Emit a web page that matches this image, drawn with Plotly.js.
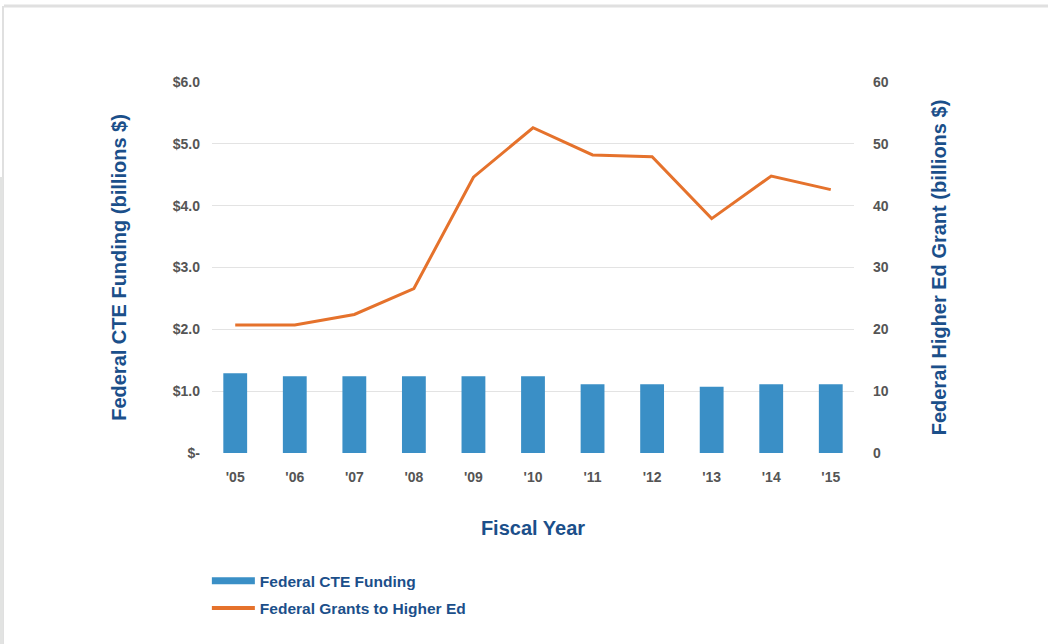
<!DOCTYPE html>
<html>
<head>
<meta charset="utf-8">
<script src="https://cdn.plot.ly/plotly-3.0.1.min.js"></script>
<style>html,body{margin:0;padding:0;background:#fff;}#chart{width:1048px;height:644px;}</style>
</head>
<body>
<div id="chart"></div>
<script>
const years = ["'05","'06","'07","'08","'09","'10","'11","'12","'13","'14","'15"];
const cteFunding = [1.29, 1.24, 1.24, 1.24, 1.24, 1.24, 1.11, 1.11, 1.07, 1.11, 1.11];
const higherEdGrants = [20.7, 20.7, 22.4, 26.6, 44.6, 52.6, 48.2, 47.9, 37.9, 44.8, 42.6];
const leftTickVals = [0, 1, 2, 3, 4, 5, 6];
const leftTickText = ["$-", "$1.0", "$2.0", "$3.0", "$4.0", "$5.0", "$6.0"];
const rightTickVals = [0, 10, 20, 30, 40, 50, 60];

const blueText = "#1b4f8a";
const barColor = "#3a8fc6";
const lineColor = "#e5722c";
const fam = "Liberation Sans, Arial, sans-serif";
const tickFont = {family: fam, size: 14, color: "#555555", weight: "bold"};
const titleFont = {family: fam, size: 20, color: blueText, weight: "bold"};

const traces = [
  {type: "bar", x: years, y: cteFunding, name: "Federal CTE Funding", marker: {color: barColor},
   width: 0.40, showlegend: false},
  {type: "scatter", mode: "lines", x: years, y: higherEdGrants, yaxis: "y2", name: "Federal Grants to Higher Ed",
   line: {color: lineColor, width: 3}, showlegend: false},
  {type: "scatter", mode: "lines", x: [null], y: [null], name: "Federal CTE Funding", legendgroup: "a",
   line: {color: barColor, width: 7}},
  {type: "scatter", mode: "lines", x: [null], y: [null], yaxis: "y2", name: "Federal Grants to Higher Ed", legendgroup: "b",
   line: {color: lineColor, width: 4}}
];

const layout = {
  width: 1048, height: 644,
  margin: {l: 212, r: 194, t: 82, b: 191},
  paper_bgcolor: "#ffffff", plot_bgcolor: "#ffffff",
  xaxis: {
    type: "category", range: [-0.39, 10.39], showgrid: false, zeroline: false, showline: false,
    tickfont: tickFont, ticks: "", ticklabelstandoff: 14,
    title: {text: "Fiscal Year", font: titleFont, standoff: 36}
  },
  yaxis: {
    range: [0, 6], tickvals: leftTickVals, ticktext: leftTickText, showgrid: true, gridcolor: "#e3e3e3",
    zeroline: false, showline: false, tickfont: tickFont, ticks: "", ticklabelstandoff: 11,
    title: {text: "Federal CTE Funding (billions $)", font: titleFont, standoff: 40}
  },
  yaxis2: {
    overlaying: "y", side: "right", range: [0, 60], tickvals: rightTickVals, showgrid: false,
    zeroline: false, showline: false, tickfont: tickFont, ticks: "", ticklabelstandoff: 18,
    title: {text: "Federal Higher Ed Grant (billions $)", font: titleFont, standoff: 44}
  },
  legend: {
    x: -0.008, xanchor: "left", y: -0.3, yanchor: "top", orientation: "v",
    font: {family: fam, size: 15.5, color: blueText, weight: "bold"},
    itemwidth: 43, tracegroupgap: 4
  },
  shapes: [
    {type: "line", xref: "paper", yref: "paper", x0: -0.324, x1: 1.31, y0: 1.2049, y1: 1.2049,
     line: {color: "#e0e0e0", width: 3}, layer: "below"},
    {type: "line", xref: "paper", yref: "paper", x0: -0.3255, x1: -0.3255, y0: 1.2049, y1: -0.52,
     line: {color: "#e0e0e0", width: 2}, layer: "below"},
    {type: "rect", xref: "paper", yref: "paper", x0: -0.34, x1: -0.3255, y0: 0.7439, y1: -0.52,
     line: {width: 0}, fillcolor: "#e2e3e2", layer: "below"}
  ]
};

Plotly.newPlot("chart", traces, layout, {displayModeBar: false, staticPlot: true});
</script>
</body>
</html>
